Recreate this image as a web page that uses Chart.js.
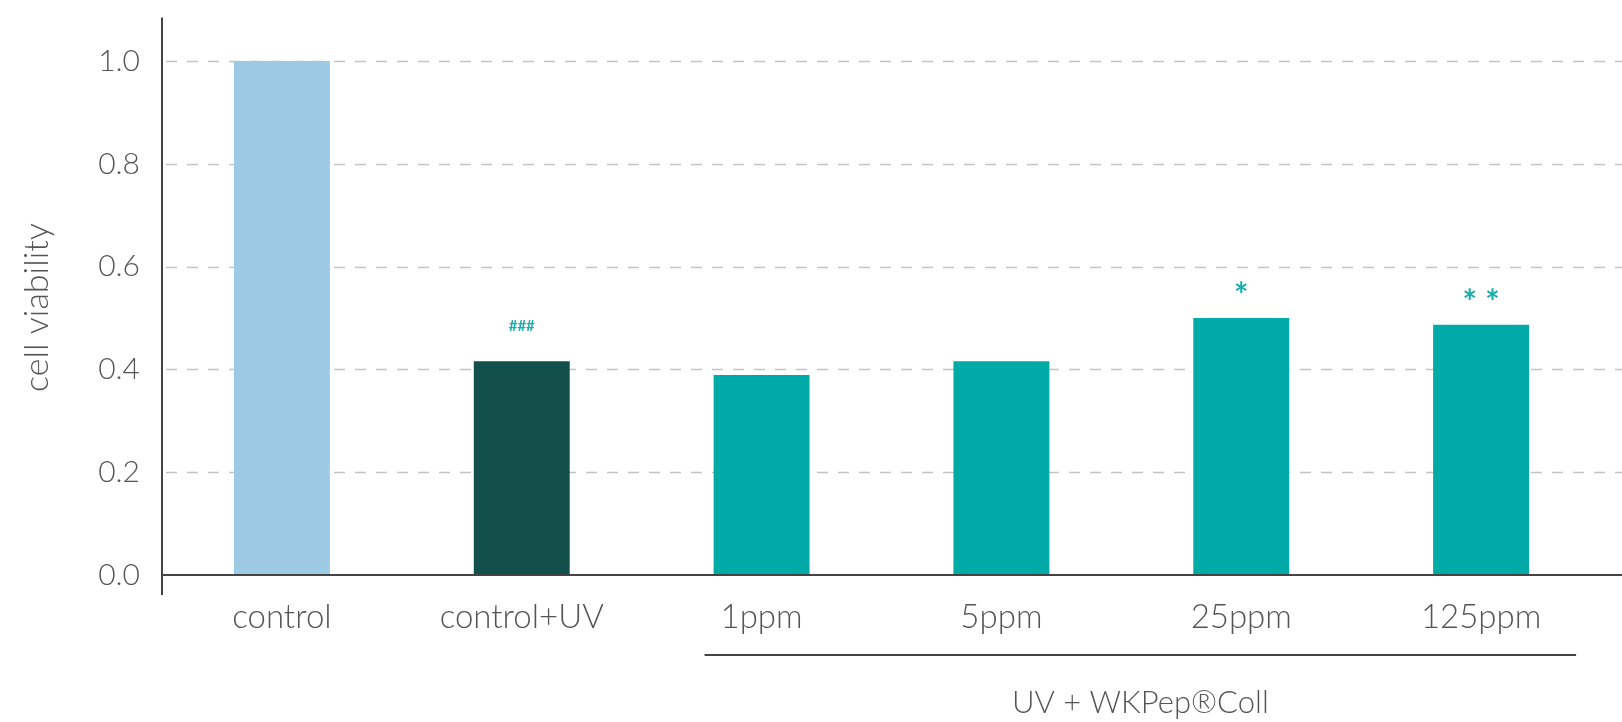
<!DOCTYPE html>
<html lang="en">
<head>
  <meta charset="UTF-8" />
  <title>Cell viability</title>
  <script src="https://cdn.jsdelivr.net/npm/chart.js"></script>
  <style>
    html, body { margin: 0; padding: 0; background: #fff; }
    .wrap { position: relative; width: 1622px; height: 722px; }
  </style>
</head>
<body>
  <div class="wrap"><canvas id="chart"></canvas></div>

  <script>
    const categories = ['control', 'control+UV', '1ppm', '5ppm', '25ppm', '125ppm'];
    const viability = [1.0, 0.416, 0.389, 0.416, 0.50, 0.487];
    const marks = ['', '###', '', '', '*', '**'];
    const yTicks = [0, 0.2, 0.4, 0.6, 0.8, 1.0];
    const yAxisTop = 1.085;
    const groupLabel = 'UV + WKPep®Coll';
    const groupFrom = '1ppm';
    const groupTo = '125ppm';
    const yTitle = 'cell viability';

    const barColors = ['#9ccae4', '#134f4b', '#00aaa6', '#00aaa6', '#00aaa6', '#00aaa6'];
    const textColor = '#555';
    const axisColor = '#444';
    const markColor = '#1aaeaa';
    const fontFamily = 'Lato, "Open Sans", sans-serif';

    // dashed grid, axes, bracket and significance marks
    const decor = {
      id: 'decor',
      beforeDatasetsDraw(chart) {
        const { ctx, scales: { y } } = chart;
        ctx.save();
        ctx.strokeStyle = '#c4c4c4';
        ctx.lineWidth = 1.5;
        ctx.setLineDash([11, 10]);
        yTicks.forEach(v => {
          if (v === 0) return;
          const py = Math.round(y.getPixelForValue(v)) + 0.5;
          ctx.beginPath();
          ctx.moveTo(chart.chartArea.left + 4, py);
          ctx.lineTo(chart.width, py);
          ctx.stroke();
        });
        ctx.restore();
      },
      afterDraw(chart) {
        const { ctx, chartArea, scales: { x, y } } = chart;
        const y0 = y.getPixelForValue(0);
        ctx.save();

        // axes
        ctx.strokeStyle = axisColor;
        ctx.lineWidth = 2;
        ctx.beginPath();
        ctx.moveTo(chartArea.left, y.getPixelForValue(yAxisTop));
        ctx.lineTo(chartArea.left, y0 + 20);
        ctx.moveTo(chartArea.left, y0);
        ctx.lineTo(chart.width, y0);
        ctx.stroke();

        // significance marks
        const meta = chart.getDatasetMeta(0);
        ctx.fillStyle = markColor;
        ctx.textAlign = 'center';
        ctx.textBaseline = 'middle';
        marks.forEach((m, i) => {
          if (!m) return;
          const bar = meta.data[i];
          if (m.startsWith('#')) {
            ctx.font = `bold 15px ${fontFamily}`;
            ctx.fillText(m, bar.x, bar.y - 35);
          } else {
            ctx.font = `bold 34px ${fontFamily}`;
            ctx.fillText(m.split('').join(' '), bar.x, bar.y - 22);
          }
        });

        // group bracket
        const x1 = x.getPixelForValue(categories.indexOf(groupFrom)) - 57;
        const x2 = x.getPixelForValue(categories.indexOf(groupTo)) + 95;
        const by = y0 + 80;
        ctx.strokeStyle = axisColor;
        ctx.lineWidth = 2;
        ctx.beginPath();
        ctx.moveTo(x1, by);
        ctx.lineTo(x2, by);
        ctx.stroke();
        ctx.fillStyle = textColor;
        ctx.font = `300 31px ${fontFamily}`;
        ctx.fillText(groupLabel, (x1 + x2) / 2, by + 48);

        ctx.restore();
      }
    };

    const chart = new Chart(document.getElementById('chart'), {
      type: 'bar',
      data: {
        labels: categories,
        datasets: [{
          data: viability,
          backgroundColor: barColors,
          barPercentage: 0.4,
          categoryPercentage: 1.0
        }]
      },
      options: {
        responsive: true,
        maintainAspectRatio: false,
        animation: false,
        events: [],
        layout: { padding: { top: 0, right: 21, left: 0, bottom: 0 } },
        plugins: {
          legend: { display: false },
          tooltip: { enabled: false }
        },
        scales: {
          x: {
            grid: { display: false, drawTicks: false },
            border: { display: false },
            ticks: {
              color: textColor,
              padding: 23,
              font: { family: fontFamily, size: 33, weight: 300 }
            },
            afterFit: s => { s.height = 147; }
          },
          y: {
            min: 0,
            max: 1.041,
            grid: { display: false, drawTicks: false },
            border: { display: false },
            afterBuildTicks: s => { s.ticks = yTicks.map(v => ({ value: v })); },
            ticks: {
              color: textColor,
              padding: 22,
              font: { family: fontFamily, size: 30, weight: 300 },
              callback: v => Number(v).toFixed(1)
            },
            title: {
              display: true,
              text: yTitle,
              color: textColor,
              padding: { top: 17, bottom: 0 },
              font: { family: fontFamily, size: 34, weight: 300 }
            },
            afterFit: s => { s.width = 162; }
          }
        }
      },
      plugins: [decor]
    });
  </script>
</body>
</html>
